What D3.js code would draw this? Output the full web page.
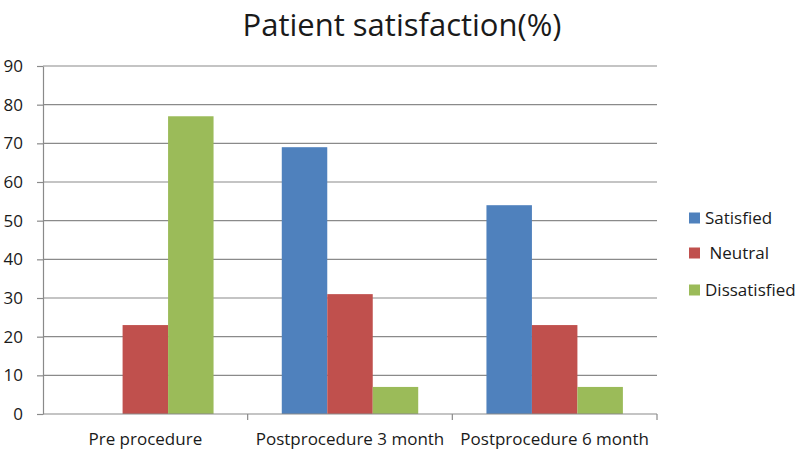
<!DOCTYPE html>
<html>
<head>
<meta charset="utf-8">
<script src="https://cdn.jsdelivr.net/npm/d3@7"></script>
<style>
  html, body { margin: 0; padding: 0; background: #fff; }
  svg { display: block; }
  text { font-family: "Open Sans", "Noto Sans", sans-serif; fill: #1a1a1a; }
</style>
</head>
<body>
<svg id="chart" width="800" height="457"></svg>
<script>
const categories = ["Pre procedure", "Postprocedure 3 month", "Postprocedure 6 month"];
const seriesNames = ["Satisfied", "Neutral", "Dissatisfied"];
const satisfied = [0, 69, 54];
const neutral = [23, 31, 23];
const dissatisfied = [77, 7, 7];
const yTicks = [0, 10, 20, 30, 40, 50, 60, 70, 80, 90];
const colors = ["#4F81BD", "#C0504D", "#9BBB59"];
const titleText = "Patient satisfaction(%)";

const seriesValues = [satisfied, neutral, dissatisfied];
const data = categories.map((c, i) => ({
  cat: c,
  vals: seriesNames.map((s, j) => ({ s, v: seriesValues[j][i] }))
}));

const svg = d3.select("#chart");
const mLeft = 43, mRight = 657, mTop = 66, mBottom = 414;

const x0 = d3.scaleBand().domain(categories).range([mLeft, mRight]).padding(0);
const bw = x0.bandwidth();
const x1 = d3.scaleBand().domain(seriesNames).range([bw / 6, bw * 5 / 6]).padding(0);
const y = d3.scaleLinear().domain([0, 90]).range([mBottom, mTop]);
const color = d3.scaleOrdinal().domain(seriesNames).range(colors);

// gridlines
svg.append("g")
  .selectAll("line")
  .data(yTicks.filter(d => d > 0))
  .join("line")
  .attr("x1", mLeft).attr("x2", mRight)
  .attr("y1", d => y(d)).attr("y2", d => y(d))
  .attr("stroke", "#8a8a8a").attr("stroke-width", 1.2);

// bars
svg.append("g")
  .selectAll("g")
  .data(data)
  .join("g")
  .attr("transform", d => `translate(${x0(d.cat)},0)`)
  .selectAll("rect")
  .data(d => d.vals)
  .join("rect")
  .attr("x", d => x1(d.s))
  .attr("width", x1.bandwidth())
  .attr("y", d => y(d.v))
  .attr("height", d => y(0) - y(d.v))
  .attr("fill", d => color(d.s));

// y axis
const yAxis = svg.append("g")
  .attr("transform", `translate(${mLeft},0)`)
  .call(d3.axisLeft(y).tickValues(yTicks).tickSize(6).tickPadding(14).tickSizeOuter(0));
yAxis.select(".domain").attr("stroke", "#8a8a8a").attr("stroke-width", 1.2);
yAxis.selectAll(".tick line").attr("stroke", "#8a8a8a").attr("stroke-width", 1.2);
yAxis.selectAll(".tick text").style("font-size", "17px").style("font-family", "'Open Sans', sans-serif").attr("fill", "#1a1a1a");

// x axis
const xAxisG = svg.append("g").attr("transform", `translate(0,${mBottom})`);
xAxisG.append("line")
  .attr("x1", mLeft).attr("x2", mRight)
  .attr("stroke", "#8a8a8a").attr("stroke-width", 1.2);
xAxisG.selectAll("line.tk")
  .data(categories.map(c => x0(c) + bw))
  .join("line").attr("class", "tk")
  .attr("x1", d => d).attr("x2", d => d)
  .attr("y1", 0).attr("y2", 6)
  .attr("stroke", "#8a8a8a").attr("stroke-width", 1.2);
xAxisG.selectAll("text")
  .data(categories)
  .join("text")
  .attr("x", d => x0(d) + bw / 2)
  .attr("y", 31)
  .attr("text-anchor", "middle")
  .style("font-size", "17px")
  .text(d => d);

// title
svg.append("text")
  .attr("x", 402).attr("y", 36)
  .attr("text-anchor", "middle")
  .style("font-size", "31px")
  .text(titleText);

// legend
const legendY = [218, 253, 290];
const legendLabels = ["Satisfied", " Neutral", "Dissatisfied"];
const lg = svg.append("g").selectAll("g")
  .data(seriesNames)
  .join("g")
  .attr("transform", (d, i) => `translate(689,${legendY[i]})`);
lg.append("rect")
  .attr("x", 0).attr("y", -5.5).attr("width", 11).attr("height", 11)
  .attr("fill", d => color(d));
lg.append("text")
  .attr("x", 16).attr("y", 0).attr("dy", "0.35em")
  .style("font-size", "17px")
  .style("white-space", "pre")
  .text((d, i) => legendLabels[i]);
</script>
</body>
</html>
